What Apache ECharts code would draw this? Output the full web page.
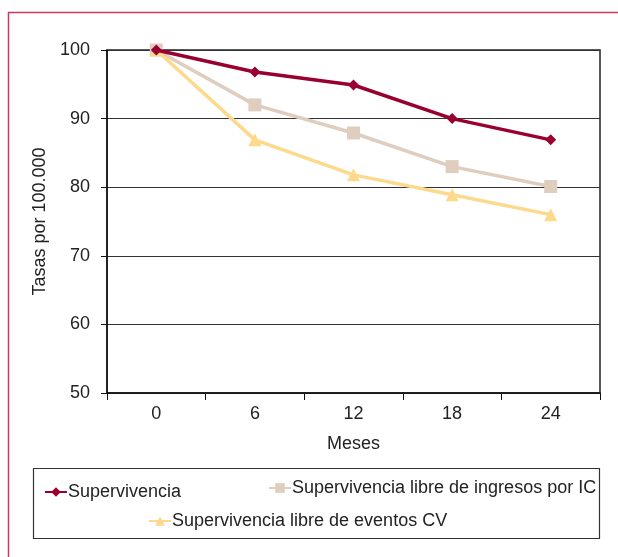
<!DOCTYPE html>
<html>
<head>
<meta charset="utf-8">
<script src="https://cdn.jsdelivr.net/npm/echarts@6/dist/echarts.min.js"></script>
<style>html,body{margin:0;padding:0;background:#fff;}#c{width:618px;height:557px;}</style>
</head>
<body>
<div id="c"></div>
<script>
const months = ['0', '6', '12', '18', '24'];
const supervivencia = [100, 96.8, 94.9, 90, 86.9];
const libreIC = [100, 92, 87.9, 83, 80.1];
const libreCV = [100, 86.9, 81.8, 78.9, 76];
const seriesNames = ['Supervivencia', 'Supervivencia libre de ingresos por IC', 'Supervivencia libre de eventos CV'];
const yTicks = { min: 50, max: 100, interval: 10 };

const FONT = '"Liberation Sans Narrow", "Liberation Sans", Arial, sans-serif';
const FS = 18;
const colors = ['#990030', '#dfcdbd', '#fdd98c'];

const chart = echarts.init(document.getElementById('c'));
const legendBase = {
  orient: 'horizontal',
  itemWidth: 22,
  itemHeight: 12,
  itemGap: 0,
  padding: 0,
  textStyle: { fontFamily: FONT, fontSize: FS, color: '#222', padding: [0, 0, 0, -4] },
  selectedMode: false
};
chart.setOption({
  animation: false,
  textStyle: { fontFamily: FONT },
  graphic: [
    { type: 'rect', shape: { x: 8.5, y: 12.5, width: 640, height: 600 }, style: { fill: null, stroke: '#c8385f', lineWidth: 1.5 }, z: 0 },
    { type: 'rect', shape: { x: 33.5, y: 468.5, width: 566, height: 70 }, style: { fill: null, stroke: '#333', lineWidth: 1.2 }, z: 0 }
  ],
  grid: { left: 107, right: 18, top: 50, bottom: 164, show: true, borderColor: '#222', borderWidth: 1.5, backgroundColor: 'transparent' },
  legend: [
    Object.assign({}, legendBase, { left: 44, top: 483, data: [seriesNames[0]] }),
    Object.assign({}, legendBase, { left: 268, top: 479, data: [seriesNames[1]] }),
    Object.assign({}, legendBase, { left: 148, top: 512, data: [seriesNames[2]] })
  ],
  xAxis: {
    type: 'category',
    data: months,
    boundaryGap: true,
    name: 'Meses',
    nameLocation: 'middle',
    nameGap: 42,
    nameTextStyle: { fontFamily: FONT, fontSize: FS, color: '#222' },
    axisLine: { lineStyle: { color: '#111', width: 1.5 } },
    axisTick: { show: true, length: 7, inside: false, lineStyle: { color: '#111' } },
    axisLabel: { fontFamily: FONT, fontSize: FS, color: '#222', margin: 12 },
    splitLine: { show: false }
  },
  yAxis: {
    type: 'value',
    min: yTicks.min, max: yTicks.max, interval: yTicks.interval,
    name: 'Tasas por 100.000',
    nameLocation: 'middle',
    nameGap: 54,
    nameRotate: 90,
    nameTextStyle: { fontFamily: FONT, fontSize: FS, color: '#222' },
    axisLine: { show: true, lineStyle: { color: '#111', width: 1.5 } },
    axisTick: { show: true, length: 6, lineStyle: { color: '#111' } },
    axisLabel: { fontFamily: FONT, fontSize: FS, color: '#222', margin: 17 },
    splitLine: { show: true, lineStyle: { color: '#333', width: 1.2 } }
  },
  series: [
    { name: seriesNames[0], type: 'line', data: supervivencia, symbol: 'diamond', symbolSize: 11, lineStyle: { width: 3.5, color: colors[0] }, itemStyle: { color: colors[0] }, z: 5 },
    { name: seriesNames[1], type: 'line', data: libreIC, symbol: 'rect', symbolSize: 13, lineStyle: { width: 3.5, color: colors[1] }, itemStyle: { color: colors[1] }, z: 3 },
    { name: seriesNames[2], type: 'line', data: libreCV, symbol: 'triangle', symbolSize: 13, lineStyle: { width: 3.5, color: colors[2] }, itemStyle: { color: colors[2] }, z: 4 }
  ]
});
</script>
</body>
</html>
